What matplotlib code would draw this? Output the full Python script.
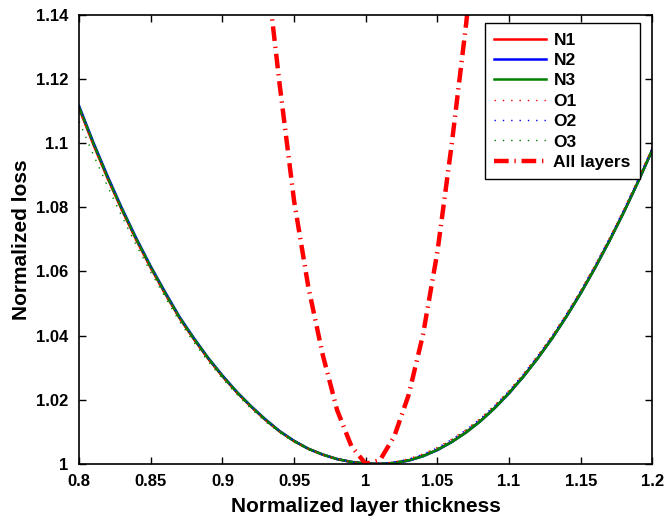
import matplotlib
matplotlib.use('Agg')
import matplotlib.pyplot as plt

plt.rcParams['font.family'] = ['Liberation Sans', 'DejaVu Sans']
plt.rcParams['font.weight'] = 'bold'

# normalized thickness grid for the single-layer curves
x = [0.80, 0.81, 0.82, 0.83, 0.84, 0.85, 0.86, 0.87, 0.88, 0.89, 0.90,
     0.91, 0.92, 0.93, 0.94, 0.95, 0.96, 0.97, 0.98, 0.99, 1.00,
     1.01, 1.02, 1.03, 1.04, 1.05, 1.06, 1.07, 1.08, 1.09, 1.10,
     1.11, 1.12, 1.13, 1.14, 1.15, 1.16, 1.17, 1.18, 1.19, 1.20]

n1 = [1.1108, 1.0995, 1.0889, 1.0790, 1.0697, 1.0611, 1.0531, 1.0455, 1.0389, 1.0328, 1.0273,
      1.0223, 1.0178, 1.0137, 1.0101, 1.0071, 1.0047, 1.0029, 1.0015, 1.0006, 1.0001,
      1.0000, 1.0003, 1.0011, 1.0025, 1.0044, 1.0069, 1.0099, 1.0134, 1.0175, 1.0221,
      1.0273, 1.0330, 1.0392, 1.0460, 1.0533, 1.0612, 1.0696, 1.0785, 1.0880, 1.0980]
n2 = [1.1116, 1.1002, 1.0896, 1.0796, 1.0703, 1.0616, 1.0536, 1.0459, 1.0393, 1.0331, 1.0276,
      1.0225, 1.0180, 1.0139, 1.0102, 1.0072, 1.0047, 1.0029, 1.0015, 1.0006, 1.0001,
      1.0000, 1.0003, 1.0010, 1.0024, 1.0043, 1.0068, 1.0098, 1.0133, 1.0174, 1.0220,
      1.0272, 1.0329, 1.0391, 1.0459, 1.0532, 1.0611, 1.0695, 1.0784, 1.0879, 1.0979]
n3 = [1.1112, 1.0999, 1.0892, 1.0793, 1.0700, 1.0614, 1.0533, 1.0457, 1.0391, 1.0330, 1.0274,
      1.0224, 1.0179, 1.0138, 1.0101, 1.0071, 1.0047, 1.0029, 1.0015, 1.0006, 1.0001,
      1.0000, 1.0003, 1.0011, 1.0024, 1.0044, 1.0068, 1.0098, 1.0133, 1.0174, 1.0221,
      1.0272, 1.0329, 1.0391, 1.0459, 1.0532, 1.0611, 1.0695, 1.0784, 1.0879, 1.0980]
o1 = [1.1105, 1.0992, 1.0886, 1.0787, 1.0694, 1.0608, 1.0528, 1.0453, 1.0387, 1.0326, 1.0271,
      1.0221, 1.0176, 1.0136, 1.0100, 1.0070, 1.0046, 1.0028, 1.0015, 1.0006, 1.0001,
      1.0001, 1.0006, 1.0016, 1.0031, 1.0051, 1.0077, 1.0107, 1.0142, 1.0183, 1.0229,
      1.0281, 1.0338, 1.0400, 1.0468, 1.0541, 1.0620, 1.0704, 1.0793, 1.0888, 1.0988]
o2 = [1.1114, 1.1000, 1.0894, 1.0794, 1.0701, 1.0614, 1.0534, 1.0457, 1.0391, 1.0329, 1.0274,
      1.0223, 1.0178, 1.0137, 1.0101, 1.0071, 1.0046, 1.0028, 1.0015, 1.0006, 1.0001,
      1.0001, 1.0006, 1.0015, 1.0030, 1.0050, 1.0076, 1.0106, 1.0141, 1.0182, 1.0228,
      1.0280, 1.0337, 1.0399, 1.0467, 1.0540, 1.0619, 1.0703, 1.0792, 1.0887, 1.0987]
o3 = [1.1068, 1.0963, 1.0864, 1.0770, 1.0681, 1.0598, 1.0520, 1.0445, 1.0380, 1.0320, 1.0266,
      1.0217, 1.0172, 1.0132, 1.0097, 1.0068, 1.0044, 1.0027, 1.0014, 1.0005, 1.0000,
      1.0000, 1.0005, 1.0014, 1.0029, 1.0049, 1.0075, 1.0105, 1.0140, 1.0181, 1.0227,
      1.0279, 1.0336, 1.0398, 1.0466, 1.0539, 1.0618, 1.0702, 1.0791, 1.0886, 1.0986]

# all layers varied together
x_all = [0.92, 0.93, 0.94, 0.95, 0.96, 0.97, 0.98, 0.99, 1.00,
         1.01, 1.02, 1.03, 1.04, 1.05, 1.06, 1.07, 1.08]
y_all = [1.200, 1.157, 1.118, 1.082, 1.055, 1.034, 1.0168, 1.0055, 1.0000,
         1.0012, 1.0087, 1.0216, 1.0404, 1.0661, 1.0997, 1.137, 1.180]

xticks = [0.8, 0.85, 0.9, 0.95, 1.0, 1.05, 1.1, 1.15, 1.2]
xticklabels = ['0.8', '0.85', '0.9', '0.95', '1', '1.05', '1.1', '1.15', '1.2']
yticks = [1.0, 1.02, 1.04, 1.06, 1.08, 1.1, 1.12, 1.14]
yticklabels = ['1', '1.02', '1.04', '1.06', '1.08', '1.1', '1.12', '1.14']

fig = plt.figure(figsize=(6.65, 5.16), dpi=100)
ax = fig.add_axes([0.119, 0.101, 0.862, 0.870])

ax.plot(x, n1, color='#ff0000', lw=1.8, label='N1')
ax.plot(x, n2, color='#0000ff', lw=1.8, label='N2')
ax.plot(x, n3, color='#008000', lw=1.8, label='N3')
ax.plot(x, o1, color='#ff0000', lw=1.0, linestyle=(0, (1, 5)), label='O1')
ax.plot(x, o2, color='#0000ff', lw=1.0, linestyle=(0, (1, 5)), label='O2')
ax.plot(x, o3, color='#008000', lw=1.0, linestyle=(0, (1, 5)), label='O3')
ax.plot(x_all, y_all, color='#ff0000', lw=3.2, linestyle=(0, (3.3, 1.3, 0.3, 1.3)),
        label='All layers')

ax.set_xlim(0.8, 1.2)
ax.set_ylim(1.0, 1.14)
ax.set_xticks(xticks)
ax.set_xticklabels(xticklabels)
ax.set_yticks(yticks)
ax.set_yticklabels(yticklabels)
ax.tick_params(direction='in', top=True, right=True, length=5, width=1, labelsize=12)
ax.tick_params(axis='x', pad=7)
ax.tick_params(axis='y', pad=8)
for s in ax.spines.values():
    s.set_linewidth(1.2)

ax.set_xlabel('Normalized layer thickness', fontsize=15, fontweight='bold', labelpad=6)
ax.set_ylabel('Normalized loss', fontsize=15, fontweight='bold', labelpad=3)

leg = ax.legend(loc='upper right', bbox_to_anchor=(0.979, 0.982), borderaxespad=0,
                fontsize=12.5, handlelength=3.0, fancybox=False, framealpha=1,
                edgecolor='black', labelspacing=0.3, handletextpad=0.4, borderpad=0.55)
leg.get_frame().set_linewidth(1.0)

fig.savefig('out.png', dpi=100)
